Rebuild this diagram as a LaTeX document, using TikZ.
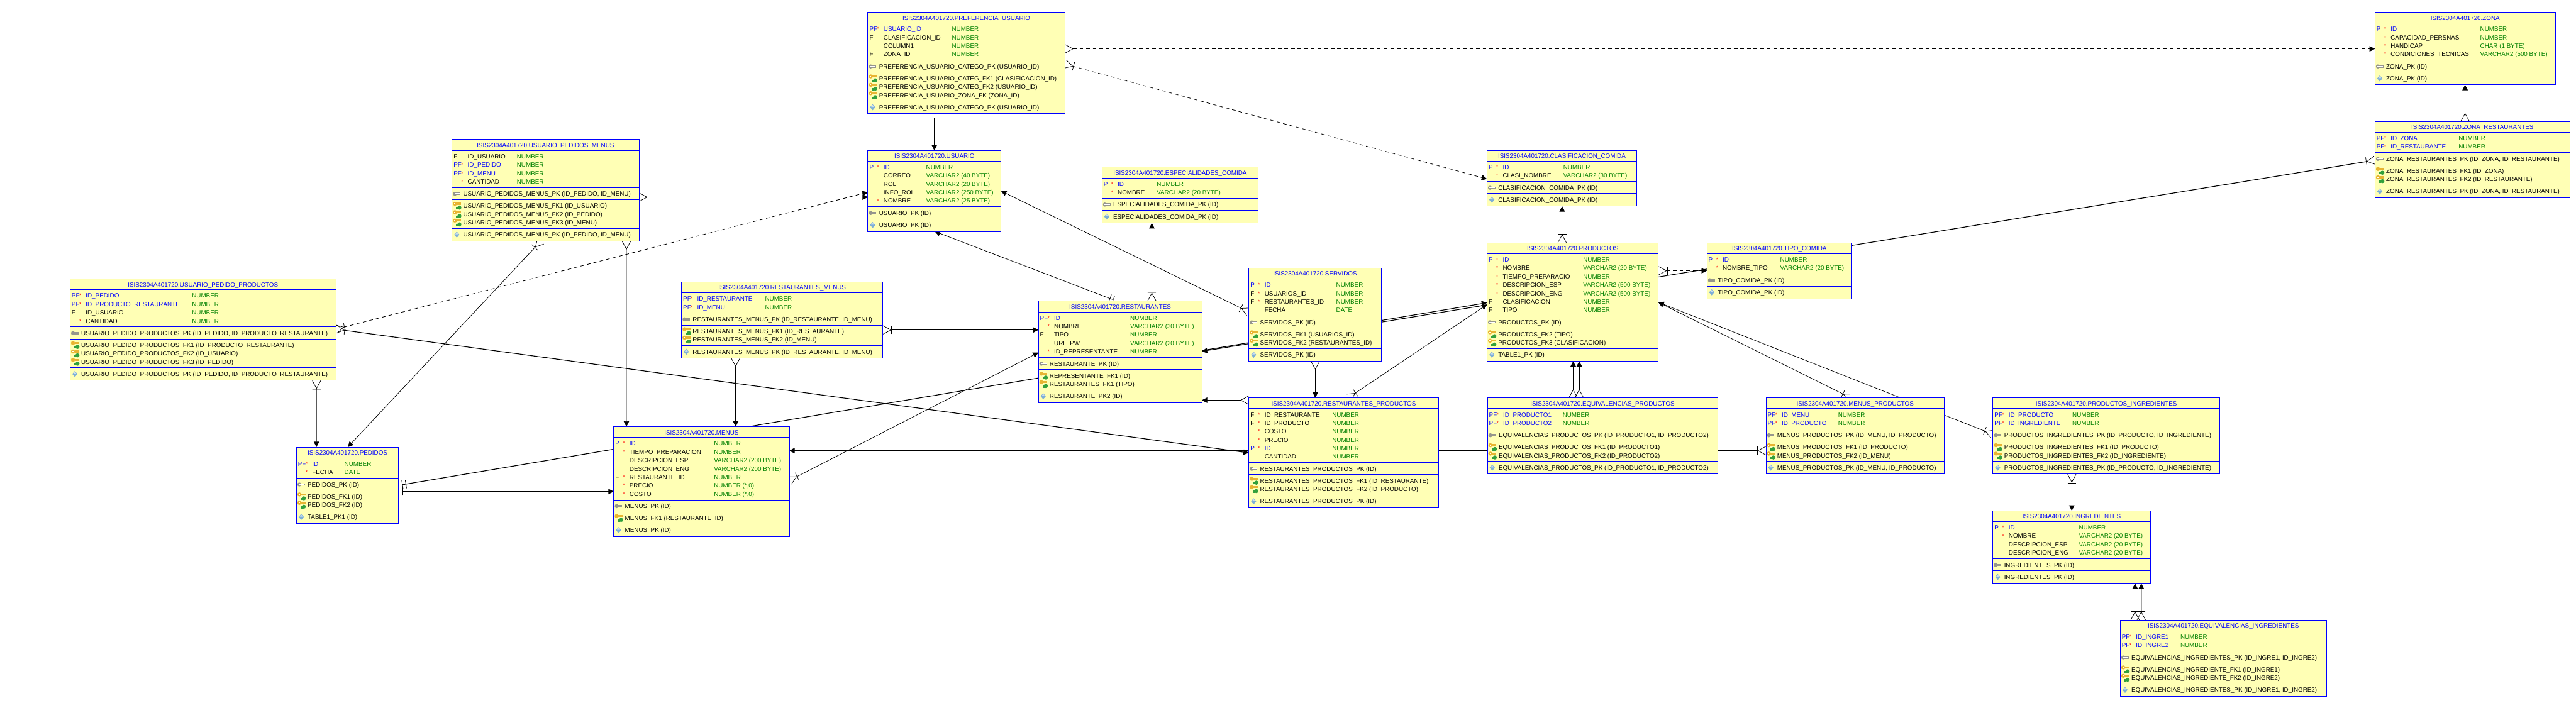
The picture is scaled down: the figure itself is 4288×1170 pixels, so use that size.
\documentclass[tikz,border=0pt]{standalone}
\usepackage{fontspec}
\setmainfont{Liberation Sans}
\usetikzlibrary{calc,arrows.meta,backgrounds}
\definecolor{erBlue}{RGB}{0,0,255}
\definecolor{erFill}{RGB}{255,255,181}
\definecolor{erGreen}{RGB}{0,128,0}
\definecolor{keyGray}{RGB}{150,150,140}
\definecolor{keyGold}{RGB}{232,180,50}
\definecolor{keyGreen}{RGB}{50,160,60}
\definecolor{diamBlue}{RGB}{125,175,215}
\newcommand{\lblp}{P}
\newcommand{\lblpf}{PF}
\newcommand{\lblf}{F}
\newcommand{\lbln}{}
\newcounter{nrow}
\newcounter{nfk}
\tikzset{
  ertab/.style={draw=erBlue,fill=erFill,line width=1pt,inner sep=0pt,outer sep=0pt,anchor=north west},
  erline/.style={draw=erBlue,line width=1pt},
  ertxt/.style={anchor=base west,inner sep=0pt,font=\fontsize{10.3}{12}\selectfont},
  erstar/.style={anchor=base,inner sep=0pt,text=red,font=\fontsize{8}{10}\selectfont},
  rowp/.style={text=erBlue},
  rowpf/.style={text=erBlue},
  rowf/.style={text=black},
  rown/.style={text=black},
  crow/.tip={Bar[width=14pt,line width=.8pt,sep=0pt]Straight Barb[reversed,length=13pt,width=14pt,line width=.8pt,sep=0pt]},
  bars/.tip={Bar[width=14pt,line width=.8pt,sep=5pt]Bar[width=14pt,line width=.8pt,sep=6pt]},
  fkhead/.tip={Triangle[length=9pt,width=9pt]},
  thincrow/.style={line width=.8pt,{crow}-{fkhead}},
  thickcrow/.style={line width=1.2pt,{crow}-{fkhead}},
  thinbars/.style={line width=.8pt,{bars}-{fkhead}},
  thickbars/.style={line width=1.2pt,{bars}-{fkhead}},
  dashcrow/.style={line width=.9pt,dash pattern=on 6pt off 5pt,{crow}-{fkhead}},
  iconpk/.pic={
    \fill[keyGray] (-3.2,0) ellipse [x radius=3.2,y radius=3.4];
    \fill[keyGray] (-1,-2) rectangle (6,2);
    \fill[white] (-4,-.7) rectangle (5,.2);
  },
  iconfk/.pic={
    \fill[keyGold] (-3.6,-3.4) circle [radius=3.4];
    \fill[keyGold] (-1,-5.2) rectangle (6.5,-1.8);
    \fill[white] (-4.6,-4) rectangle (-3,-2.8);
    \fill[keyGreen] (3.8,3) circle [radius=3.4];
    \fill[keyGreen] (-1.5,2.2) rectangle (2,5.8);
  },
  iconuq/.pic={
    \fill[diamBlue] (0,-5) -- (4.3,0) -- (0,5) -- (-4.3,0) -- cycle;
    \fill[diamBlue!40!white] (0,-4) -- (2.6,-.5) -- (-2.6,-.5) -- cycle;
  }
}
% name, corner, width, type column, title, rows, primary key, foreign keys, unique key
\newcommand{\ertable}[9]{%
  \setcounter{nrow}{0}\setcounter{nfk}{0}%
  \foreach \rowspec in {#6}{\stepcounter{nrow}}%
  \ifx\relax#8\relax\else\foreach \rowspec in {#8}{\stepcounter{nfk}}\fi
  \pgfmathsetmacro\sb{24+14*\thenrow}%
  \pgfmathsetmacro\sc{\sb+20}%
  \pgfmathsetmacro\sd{\sc+(\thenfk>0)*(6+14*\thenfk)}%
  \pgfmathsetmacro\tot{\sd+21}%
  \node[ertab,minimum width=#3pt,minimum height=\tot pt] (#1) at (#2) {};
  \begin{scope}[shift={(#1.north west)}]
  \draw[erline] (0,18) -- (#3,18);
  \draw[erline] (0,\sb) -- (#3,\sb);
  \draw[erline] (0,\sc) -- (#3,\sc);
  \ifnum\thenfk>0 \draw[erline] (0,\sd) -- (#3,\sd);\fi
  \node[ertxt,anchor=base,text=erBlue] (#1title) at ({#3/2},13.2) {ISIS2304A401720.#5};
  \foreach \pre/\st/\nm/\ty [count=\i] in {#6}{
    \pgfmathsetmacro\ry{31.8+14*(\i-1)}
    \node[ertxt,row\pre] (#1p\i) at (2.5,\ry) {\csname lbl\pre\endcsname};
    \ifnum\st=1 \node[erstar] (#1s\i) at (17,{\ry-1}) {*};\fi
    \node[ertxt,row\pre] (#1n\i) at (26,\ry) {\nm};
    \node[ertxt,text=erGreen] (#1t\i) at (#4,\ry) {\ty};
  }
  \pic at (8,{\sb+10.3}) {iconpk};
  \node[ertxt] (#1pk) at (18.5,{\sb+14.1}) {#7};
  \ifnum\thenfk>0
  \foreach \fkname [count=\j] in {#8}{
    \pgfmathsetmacro\fy{\sc+10.3+14*(\j-1)}
    \pic at (8.5,\fy) {iconfk};
    \node[ertxt] (#1fk\j) at (18.5,{\fy+3.8}) {\fkname};
  }
  \fi
  \pic at (8,{\sd+10.3}) {iconuq};
  \node[ertxt] (#1uq) at (18.5,{\sd+14.1}) {#9};
  \end{scope}
}

\begin{document}
\begin{tikzpicture}[x=1pt,y=-1pt]
\useasboundingbox (0,0) rectangle (4288,1170);

% tables, left to right
\ertable{upp}{116.6,464.3}{442.6}{202.8}{USUARIO\_PEDIDO\_PRODUCTOS}
{pf/1/ID\_PEDIDO/NUMBER,pf/1/ID\_PRODUCTO\_RESTAURANTE/NUMBER,f/0/ID\_USUARIO/NUMBER,n/1/CANTIDAD/NUMBER}
{USUARIO\_PEDIDO\_PRODUCTOS\_PK (ID\_PEDIDO, ID\_PRODUCTO\_RESTAURANTE)}
{USUARIO\_PEDIDO\_PRODUCTOS\_FK1 (ID\_PRODUCTO\_RESTAURANTE),USUARIO\_PEDIDO\_PRODUCTOS\_FK2 (ID\_USUARIO),USUARIO\_PEDIDO\_PRODUCTOS\_FK3 (ID\_PEDIDO)}
{USUARIO\_PEDIDO\_PRODUCTOS\_PK (ID\_PEDIDO, ID\_PRODUCTO\_RESTAURANTE)}

\ertable{ped}{493.4,744.3}{170.2}{79.8}{PEDIDOS}
{pf/1/ID/NUMBER,n/1/FECHA/DATE}
{PEDIDOS\_PK (ID)}
{PEDIDOS\_FK1 (ID),PEDIDOS\_FK2 (ID)}
{TABLE1\_PK1 (ID)}

\ertable{upm}{752.4,232.3}{311.2}{107.8}{USUARIO\_PEDIDOS\_MENUS}
{f/0/ID\_USUARIO/NUMBER,pf/1/ID\_PEDIDO/NUMBER,pf/1/ID\_MENU/NUMBER,n/1/CANTIDAD/NUMBER}
{USUARIO\_PEDIDOS\_MENUS\_PK (ID\_PEDIDO, ID\_MENU)}
{USUARIO\_PEDIDOS\_MENUS\_FK1 (ID\_USUARIO),USUARIO\_PEDIDOS\_MENUS\_FK2 (ID\_PEDIDO),USUARIO\_PEDIDOS\_MENUS\_FK3 (ID\_MENU)}
{USUARIO\_PEDIDOS\_MENUS\_PK (ID\_PEDIDO, ID\_MENU)}

\ertable{menus}{1021.6,710.3}{292.2}{166.7}{MENUS}
{p/1/ID/NUMBER,n/1/TIEMPO\_PREPARACION/NUMBER,n/0/DESCRIPCION\_ESP/VARCHAR2 (200 BYTE),n/0/DESCRIPCION\_ENG/VARCHAR2 (200 BYTE),f/1/RESTAURANTE\_ID/NUMBER,n/1/PRECIO/{NUMBER (*,0)},n/1/COSTO/{NUMBER (*,0)}}
{MENUS\_PK (ID)}
{MENUS\_FK1 (RESTAURANTE\_ID)}
{MENUS\_PK (ID)}

\ertable{rm}{1134.4,469.3}{335.2}{139}{RESTAURANTES\_MENUS}
{pf/1/ID\_RESTAURANTE/NUMBER,pf/1/ID\_MENU/NUMBER}
{RESTAURANTES\_MENUS\_PK (ID\_RESTAURANTE, ID\_MENU)}
{RESTAURANTES\_MENUS\_FK1 (ID\_RESTAURANTE),RESTAURANTES\_MENUS\_FK2 (ID\_MENU)}
{RESTAURANTES\_MENUS\_PK (ID\_RESTAURANTE, ID\_MENU)}

\ertable{pref}{1444.6,20.3}{328.1}{139.7}{PREFERENCIA\_USUARIO}
{pf/1/USUARIO\_ID/NUMBER,f/0/CLASIFICACION\_ID/NUMBER,n/0/COLUMN1/NUMBER,f/0/ZONA\_ID/NUMBER}
{PREFERENCIA\_USUARIO\_CATEGO\_PK (USUARIO\_ID)}
{PREFERENCIA\_USUARIO\_CATEG\_FK1 (CLASIFICACION\_ID),PREFERENCIA\_USUARIO\_CATEG\_FK2 (USUARIO\_ID),PREFERENCIA\_USUARIO\_ZONA\_FK (ZONA\_ID)}
{PREFERENCIA\_USUARIO\_CATEGO\_PK (USUARIO\_ID)}

\ertable{usuario}{1444.6,250.3}{221.8}{96.9}{USUARIO}
{p/1/ID/NUMBER,n/0/CORREO/VARCHAR2 (40 BYTE),n/0/ROL/VARCHAR2 (20 BYTE),n/0/INFO\_ROL/VARCHAR2 (250 BYTE),n/1/NOMBRE/VARCHAR2 (25 BYTE)}
{USUARIO\_PK (ID)}
{}
{USUARIO\_PK (ID)}

\ertable{esp}{1834.3,278.3}{260.2}{91}{ESPECIALIDADES\_COMIDA}
{p/1/ID/NUMBER,n/1/NOMBRE/VARCHAR2 (20 BYTE)}
{ESPECIALIDADES\_COMIDA\_PK (ID)}
{}
{ESPECIALIDADES\_COMIDA\_PK (ID)}

\ertable{rest}{1728.5,501.3}{272.1}{152.7}{RESTAURANTES}
{pf/1/ID/NUMBER,n/1/NOMBRE/VARCHAR2 (30 BYTE),f/0/TIPO/NUMBER,n/0/URL\_PW/VARCHAR2 (20 BYTE),n/1/ID\_REPRESENTANTE/NUMBER}
{RESTAURANTE\_PK (ID)}
{REPRESENTANTE\_FK1 (ID),RESTAURANTES\_FK1 (TIPO)}
{RESTAURANTE\_PK2 (ID)}

\ertable{serv}{2078.8,446.3}{220.4}{145.3}{SERVIDOS}
{p/1/ID/NUMBER,f/1/USUARIOS\_ID/NUMBER,f/1/RESTAURANTES\_ID/NUMBER,n/0/FECHA/DATE}
{SERVIDOS\_PK (ID)}
{SERVIDOS\_FK1 (USUARIOS\_ID),SERVIDOS\_FK2 (RESTAURANTES\_ID)}
{SERVIDOS\_PK (ID)}

\ertable{rp}{2078.8,662.3}{315.5}{138.6}{RESTAURANTES\_PRODUCTOS}
{f/1/ID\_RESTAURANTE/NUMBER,f/1/ID\_PRODUCTO/NUMBER,n/1/COSTO/NUMBER,n/1/PRECIO/NUMBER,p/1/ID/NUMBER,n/0/CANTIDAD/NUMBER}
{RESTAURANTES\_PRODUCTOS\_PK (ID)}
{RESTAURANTES\_PRODUCTOS\_FK1 (ID\_RESTAURANTE),RESTAURANTES\_PRODUCTOS\_FK2 (ID\_PRODUCTO)}
{RESTAURANTES\_PRODUCTOS\_PK (ID)}

\ertable{clas}{2475.3,250.3}{249.1}{126.8}{CLASIFICACION\_COMIDA}
{p/1/ID/NUMBER,n/1/CLASI\_NOMBRE/VARCHAR2 (30 BYTE)}
{CLASIFICACION\_COMIDA\_PK (ID)}
{}
{CLASIFICACION\_COMIDA\_PK (ID)}

\ertable{prod}{2475.3,404.3}{285.2}{159.8}{PRODUCTOS}
{p/1/ID/NUMBER,n/1/NOMBRE/VARCHAR2 (20 BYTE),n/1/TIEMPO\_PREPARACIO/NUMBER,n/1/DESCRIPCION\_ESP/VARCHAR2 (500 BYTE),n/1/DESCRIPCION\_ENG/VARCHAR2 (500 BYTE),f/0/CLASIFICACION/NUMBER,f/0/TIPO/NUMBER}
{PRODUCTOS\_PK (ID)}
{PRODUCTOS\_FK2 (TIPO),PRODUCTOS\_FK3 (CLASIFICACION)}
{TABLE1\_PK (ID)}

\ertable{eqp}{2476,662.3}{383}{125}{EQUIVALENCIAS\_PRODUCTOS}
{pf/1/ID\_PRODUCTO1/NUMBER,pf/1/ID\_PRODUCTO2/NUMBER}
{EQUIVALENCIAS\_PRODUCTOS\_PK (ID\_PRODUCTO1, ID\_PRODUCTO2)}
{EQUIVALENCIAS\_PRODUCTOS\_FK1 (ID\_PRODUCTO1),EQUIVALENCIAS\_PRODUCTOS\_FK2 (ID\_PRODUCTO2)}
{EQUIVALENCIAS\_PRODUCTOS\_PK (ID\_PRODUCTO1, ID\_PRODUCTO2)}

\ertable{tipo}{2841.3,404.3}{241.1}{121.9}{TIPO\_COMIDA}
{p/1/ID/NUMBER,n/1/NOMBRE\_TIPO/VARCHAR2 (20 BYTE)}
{TIPO\_COMIDA\_PK (ID)}
{}
{TIPO\_COMIDA\_PK (ID)}

\ertable{mp}{2939.6,662.3}{296.9}{120}{MENUS\_PRODUCTOS}
{pf/1/ID\_MENU/NUMBER,pf/1/ID\_PRODUCTO/NUMBER}
{MENUS\_PRODUCTOS\_PK (ID\_MENU, ID\_PRODUCTO)}
{MENUS\_PRODUCTOS\_FK1 (ID\_PRODUCTO),MENUS\_PRODUCTOS\_FK2 (ID\_MENU)}
{MENUS\_PRODUCTOS\_PK (ID\_MENU, ID\_PRODUCTO)}

\ertable{pi}{3317.4,662.3}{377.6}{132}{PRODUCTOS\_INGREDIENTES}
{pf/1/ID\_PRODUCTO/NUMBER,pf/1/ID\_INGREDIENTE/NUMBER}
{PRODUCTOS\_INGREDIENTES\_PK (ID\_PRODUCTO, ID\_INGREDIENTE)}
{PRODUCTOS\_INGREDIENTES\_FK1 (ID\_PRODUCTO),PRODUCTOS\_INGREDIENTES\_FK2 (ID\_INGREDIENTE)}
{PRODUCTOS\_INGREDIENTES\_PK (ID\_PRODUCTO, ID\_INGREDIENTE)}

\ertable{ing}{3317.4,850.3}{262.1}{142.9}{INGREDIENTES}
{p/1/ID/NUMBER,n/1/NOMBRE/VARCHAR2 (20 BYTE),n/0/DESCRIPCION\_ESP/VARCHAR2 (20 BYTE),n/0/DESCRIPCION\_ENG/VARCHAR2 (20 BYTE)}
{INGREDIENTES\_PK (ID)}
{}
{INGREDIENTES\_PK (ID)}

\ertable{eqi}{3529.3,1032.3}{343.4}{100}{EQUIVALENCIAS\_INGREDIENTES}
{pf/1/ID\_INGRE1/NUMBER,pf/1/ID\_INGRE2/NUMBER}
{EQUIVALENCIAS\_INGREDIENTES\_PK (ID\_INGRE1, ID\_INGRE2)}
{EQUIVALENCIAS\_INGREDIENTE\_FK1 (ID\_INGRE1),EQUIVALENCIAS\_INGREDIENTE\_FK2 (ID\_INGRE2)}
{EQUIVALENCIAS\_INGREDIENTES\_PK (ID\_INGRE1, ID\_INGRE2)}

\ertable{zona}{3953.3,20.3}{300.4}{175}{ZONA}
{p/1/ID/NUMBER,n/1/CAPACIDAD\_PERSNAS/NUMBER,n/1/HANDICAP/CHAR (1 BYTE),n/1/CONDICIONES\_TECNICAS/VARCHAR2 (500 BYTE)}
{ZONA\_PK (ID)}
{}
{ZONA\_PK (ID)}

\ertable{zr}{3953.3,202.3}{324.4}{139}{ZONA\_RESTAURANTES}
{pf/1/ID\_ZONA/NUMBER,pf/1/ID\_RESTAURANTE/NUMBER}
{ZONA\_RESTAURANTES\_PK (ID\_ZONA, ID\_RESTAURANTE)}
{ZONA\_RESTAURANTES\_FK1 (ID\_ZONA),ZONA\_RESTAURANTES\_FK2 (ID\_RESTAURANTE)}
{ZONA\_RESTAURANTES\_PK (ID\_ZONA, ID\_RESTAURANTE)}

% relations run behind the tables
\begin{scope}[on background layer]
\foreach \sty/\a/\ax/\ay/\b/\bx/\by in {
  thickbars/pref/110.7/169/usuario/110.7/0,
  dashcrow/pref/328.1/61/zona/0/61,
  dashcrow/pref/328.1/86.4/clas/0/47.7,
  dashcrow/upm/311.2/96/usuario/0/78,
  dashcrow/upp/442.6/83.7/usuario/0/69.7,
  thincrow/upm/148/169/ped/85.6/0,
  thincrow/upm/290.3/169/menus/21.1/0,
  thincrow/upp/410.3/169/ped/33.4/0,
  thickcrow/upp/442.6/83.7/rp/0/91.7,
  thickcrow/rm/335.2/80/rest/0/48,
  thickcrow/rm/90.1/127/menus/203/0,
  thickcrow/mp/0/88/menus/292.2/40,
  thickbars/ped/170.2/63.7/prod/0/99.7,
  thickbars/ped/170.2/74/menus/0/108,
  thincrow/menus/292.2/89.7/rest/0/85.7,
  thinbars/rest/130.5/0/usuario/111.4/135,
  thincrow/serv/0/73/usuario/221.8/67.7,
  dashcrow/rest/188.9/0/esp/83/93,
  dashcrow/prod/125/0/clas/125/93,
  dashcrow/prod/285.2/46.4/tipo/0/46.4,
  thickcrow/zr/150/0/zona/150/121,
  thickcrow/zr/0/64.4/rest/272.1/83.7,
  thincrow/serv/110.6/155/rp/110.6/0,
  thincrow/rp/165.5/0/prod/0/102.7,
  thickcrow/rp/0/4/rest/272.1/165,
  thickcrow/eqp/142.7/0/prod/143.4/197,
  thickcrow/eqp/152.8/0/prod/153.5/197,
  thincrow/mp/141.1/0/prod/285.2/99,
  thincrow/pi/0/60.7/prod/285.2/99,
  thincrow/pi/131.3/127/ing/131.3/0,
  thickcrow/eqi/24.7/0/ing/236.6/121,
  thickcrow/eqi/35/0/ing/246.9/121}{
  \draw[\sty] ($(\a.north west)+(\ax,\ay)$) -- ($(\b.north west)+(\bx,\by)$);
}
\end{scope}
\end{tikzpicture}
\end{document}
